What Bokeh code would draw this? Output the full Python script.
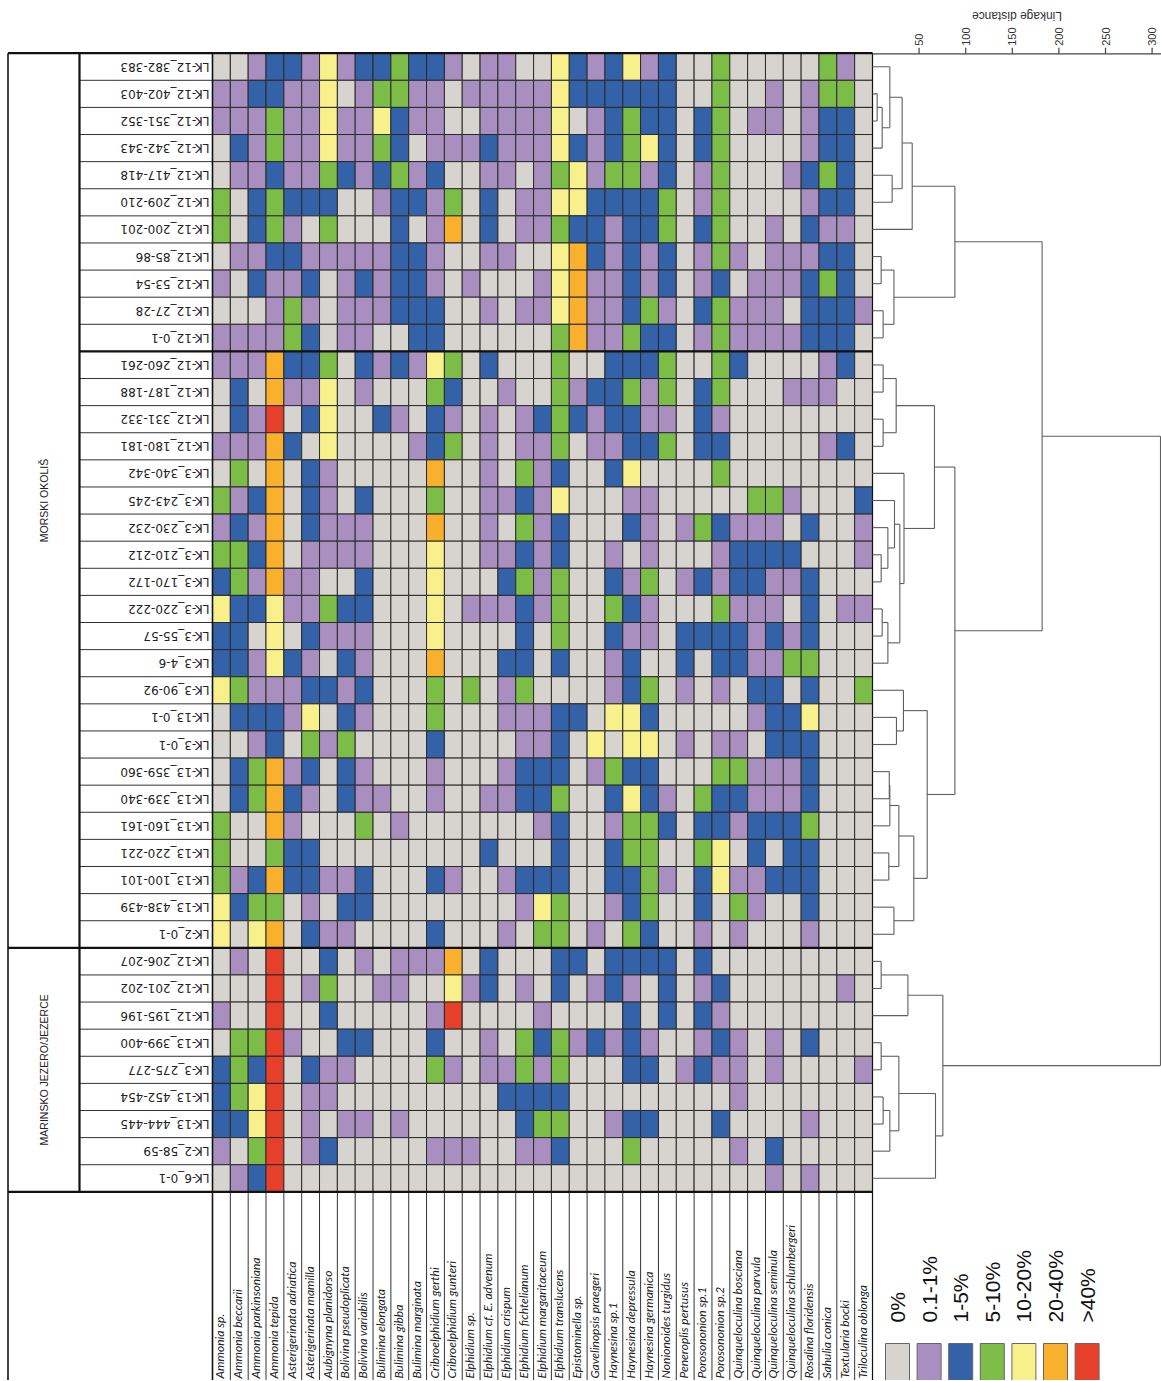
import math
from bokeh.plotting import figure
from bokeh.models import Range1d
from bokeh.embed import file_html
from bokeh.resources import INLINE
from bokeh.core.properties import value

# ---------------- data ----------------
species = ["Ammonia sp.", "Ammonia beccarii", "Ammonia parkinsoniana", "Ammonia tepida",
           "Asterigerinata adriatica", "Asterigerinata mamilla", "Aubignyna planidorso",
           "Bolivina pseudoplicata", "Bolivina variabilis", "Bulimina elongata", "Bulimina gibba",
           "Bulimina marginata", "Cribroelphidium gerthi", "Cribroelphidium gunteri", "Elphidium sp.",
           "Elphidium cf. E. advenum", "Elphidium crispum", "Elphidium fichtelianum",
           "Elphidium margaritaceum", "Elphidium translucens", "Epistominella sp.",
           "Gavelinopsis praegeri", "Haynesina sp.1", "Haynesina depressula", "Haynesina germanica",
           "Nonionoides turgidus", "Peneroplis pertusus", "Porosononion sp.1", "Porosononion sp.2",
           "Quinqueloculina bosciana", "Quinqueloculina parvula", "Quinqueloculina seminula",
           "Quinqueloculina schlumbergeri", "Rosalina floridensis", "Sahulia conica",
           "Textularia bocki", "Triloculina oblonga"]

samples = ["LK-12_382-383", "LK-12_402-403", "LK-12_351-352", "LK-12_342-343", "LK-12_417-418",
           "LK-12_209-210", "LK-12_200-201", "LK-12_85-86", "LK-12_53-54", "LK-12_27-28",
           "LK-12_0-1", "LK-12_260-261", "LK-12_187-188", "LK-12_331-332", "LK-12_180-181",
           "LK-3_340-342", "LK-3_243-245", "LK-3_230-232", "LK-3_210-212", "LK-3_170-172",
           "LK-3_220-222", "LK-3_55-57", "LK-3_4-6", "LK-3_90-92", "LK-13_0-1", "LK-3_0-1",
           "LK-13_359-360", "LK-13_339-340", "LK-13_160-161", "LK-13_220-221", "LK-13_100-101",
           "LK-13_438-439", "LK-2_0-1", "LK-12_206-207", "LK-12_201-202", "LK-12_195-196",
           "LK-13_399-400", "LK-3_275-277", "LK-13_452-454", "LK-13_444-445", "LK-2_58-59",
           "LK-6_0-1"]

groups = ["MORSKI OKOLIŠ", "MARINSKO JEZERO/JEZERCE"]
group_sizes = [33, 9]
subgroup_breaks = [11]

# abundance class per sample (row) and species (column): 0..6
abundance = [
    "0012214122322101100" + "421241200300000310",
    "1122114013311011111" + "422222200300101330",
    "1113114114211001111" + "401232202301101220",
    "0213114113201112111" + "421234202300001220",
    "0112113212312001101" + "341331201300012320",
    "3023222001221302011" + "442222301300001220",
    "3023103000201502011" + "322122302300102110",
    "0112211111221001100" + "452121201310111220",
    "1021120121221010001" + "451121201201112320",
    "0001310111222001011" + "451123102311102221",
    "1111320110022000000" + "351132201311112220",
    "1115223021214302000" + "300222300320000120",
    "0205114010003200100" + "312231302300011100",
    "0216024002102101012" + "321221102100000000",
    "1115204000012301011" + "301122302200000120",
    "0305021000005001031" + "200240000300000000",
    "3125021020003001121" + "400011000003310002",
    "1215021110005001031" + "200021013211102001",
    "3325011110004001121" + "200101000122220001",
    "2315110020004000231" + "300213012122112000",
    "4224113220004011121" + "300321000311102011",
    "2204021110004000020" + "300211022221212000",
    "2214210210005000220" + "200120020221133000",
    "4311122120003030130" + "000123010102202003",
    "0222140210003000111" + "220442000001224000",
    "0012031300002000011" + "204044010110222000",
    "0235120210001000122" + "201322000331112000",
    "0235210211001001122" + "300242103221112000",
    "3005100030100000001" + "200133202212223000",
    "3003220000000002000" + "200233003402022000",
    "3125221120002100122" + "200223102411222000",
    "4233010220000000014" + "300123002031002000",
    "4045021100002000103" + "301032001010001000",
    "0106002010111502000" + "220222202000000000",
    "0006013001100412010" + "201210201200000010",
    "1006002000001600001" + "000020202100000000",
    "0336100220002001032" + "312121001210102000",
    "2326021100003101131" + "300022012110100001",
    "2346011000000000222" + "200000000010000000",
    "2246010110100000023" + "300122000200001000",
    "1036012000001110011" + "200030000010200000",
    "0126000000000000000" + "000000000000101000",
]

class_labels = ["0%", "0.1-1%", "1-5%", "5-10%", "10-20%", "20-40%", ">40%"]
class_colors = ["#d7d3ce", "#a98fc0", "#3462a8", "#7cbd48", "#f7f08b", "#f8b02d", "#e6402a"]

# dendrogram merges (scipy-like: ids >= n_samples refer to earlier merges)
merge_a = [1, 42, 0, 4, 44, 46, 7, 9, 48, 47, 11, 13, 52, 18, 17, 16, 20, 58, 57, 15, 54,
           24, 23, 26, 65, 29, 66, 31, 68, 64, 62, 51, 33, 74, 36, 38, 77, 76, 79, 75, 73]
merge_b = [2, 3, 43, 5, 45, 6, 8, 10, 49, 50, 12, 14, 53, 19, 55, 56, 21, 22, 59, 60, 61,
           25, 63, 27, 28, 30, 67, 32, 69, 70, 71, 72, 34, 35, 37, 39, 40, 78, 41, 80, 81]
merge_h = [5.0, 10.4, 18.6, 21.1, 31.8, 42.6, 9.3, 11.4, 23.0, 88.4, 11.4, 11.4, 25.4, 9.3,
           16.5, 23.6, 10.4, 16.5, 29.3, 33.8, 66.5, 25.7, 33.2, 18.0, 18.6, 17.5, 28.3, 23.0,
           44.3, 58.7, 88.4, 182.0, 9.3, 38.0, 9.3, 11.4, 18.6, 28.3, 67.6, 75.5, 309.0]
dist_ticks = [50, 100, 150, 200, 250, 300]

# ---------------- layout (screen pixels) ----------------
PX_L, PX_R, PX_T, PX_B = 0, 1161, 0, 1380
GRID_L, GRID_R, GRID_T = 212.0, 872.0, 52.7
ROW_H = 27.11
n_rows, n_cols = len(samples), len(species)
COL_W = (GRID_R - GRID_L) / n_cols
GRID_B = GRID_T + n_rows * ROW_H
PX_PER_DIST = 0.932
GROUP_X = 79.0
OUTER_X = 7.5

p = figure(width=PX_R - PX_L, height=PX_B - PX_T, output_backend="svg", toolbar_location=None,
           x_axis_type=None, y_axis_type=None, min_border=0,
           x_range=Range1d(PX_L, PX_R), y_range=Range1d(-PX_B, -PX_T))
p.outline_line_color = None
p.grid.visible = False
p.background_fill_color = "white"
p.extra_x_ranges = {
    "col": Range1d((PX_L - GRID_L) / COL_W, (PX_R - GRID_L) / COL_W),
    "dist": Range1d((PX_L - GRID_R) / PX_PER_DIST, (PX_R - GRID_R) / PX_PER_DIST),
}
p.extra_y_ranges = {"row": Range1d(-(PX_B - GRID_T) / ROW_H, (GRID_T - PX_T) / ROW_H)}

# ---------------- heatmap ----------------
L, R, T, B, C = [], [], [], [], []
for r, row in enumerate(abundance):
    for c, ch in enumerate(row):
        L.append(c); R.append(c + 1); T.append(-r); B.append(-r - 1)
        C.append(class_colors[int(ch)])
p.quad(left=L, right=R, top=T, bottom=B, fill_color=C, line_color="#2a2a2a", line_width=1,
       x_range_name="col", y_range_name="row")

# ---------------- structural lines ----------------
thin = "#333333"
p.segment(x0=[GROUP_X] * (n_rows + 1), x1=[GRID_L] * (n_rows + 1),
          y0=[-(GRID_T + i * ROW_H) for i in range(n_rows + 1)],
          y1=[-(GRID_T + i * ROW_H) for i in range(n_rows + 1)],
          line_color=thin, line_width=1)
p.segment(x0=[GRID_L + i * COL_W for i in range(n_cols + 1)],
          x1=[GRID_L + i * COL_W for i in range(n_cols + 1)],
          y0=[-GRID_B] * (n_cols + 1), y1=[-PX_B] * (n_cols + 1), line_color=thin, line_width=1)

bounds = [0]
for s in group_sizes:
    bounds.append(bounds[-1] + s)
thick_y = [GRID_T + b * ROW_H for b in bounds]
sub_y = [GRID_T + b * ROW_H for b in subgroup_breaks]
p.segment(x0=[OUTER_X] * len(thick_y), x1=[GRID_R] * len(thick_y),
          y0=[-y for y in thick_y], y1=[-y for y in thick_y], line_color="#111111", line_width=2.2)
p.segment(x0=[GROUP_X] * len(sub_y), x1=[GRID_R] * len(sub_y),
          y0=[-y for y in sub_y], y1=[-y for y in sub_y], line_color="#111111", line_width=2.2)
p.segment(x0=[OUTER_X, GROUP_X, GRID_L, GRID_R], x1=[OUTER_X, GROUP_X, GRID_L, GRID_R],
          y0=[-GRID_T] * 4, y1=[-PX_B, -GRID_B, -PX_B, -PX_B],
          line_color="#111111", line_width=[1.6, 2.2, 1.6, 1.2])

# ---------------- labels ----------------
p.text(x=[GRID_L - 3] * n_rows, y=[-(GRID_T + (i + 0.5) * ROW_H) for i in range(n_rows)],
       text=samples, angle=math.pi, text_align="left", text_baseline="middle",
       text_font=value("DejaVu Sans"), text_font_size="12px", text_color="#222222")

gy = [-(GRID_T + (bounds[i] + bounds[i + 1]) / 2 * ROW_H) for i in range(len(groups))]
p.text(x=[(OUTER_X + GROUP_X) / 2] * len(groups), y=gy, text=groups, angle=math.pi / 2,
       text_align="center", text_baseline="middle", text_font=value("Liberation Sans"),
       text_font_size="10.5px", text_color="#222222")

p.text(x=[c + 0.42 for c in range(n_cols)], y=[-(1378 - GRID_T) / ROW_H] * n_cols,
       text=species, angle=math.pi / 2, text_align="left", text_baseline="middle",
       text_font=value("Lato"), text_font_style="italic", text_font_size="12px",
       text_color="#222222", x_range_name="col", y_range_name="row")

# ---------------- dendrogram ----------------
pos = {i: -(i + 0.5) for i in range(n_rows)}
hgt = {i: 0.0 for i in range(n_rows)}
x0, x1, y0, y1 = [], [], [], []
for k, (a, b, h) in enumerate(zip(merge_a, merge_b, merge_h)):
    for ch in (a, b):
        x0.append(hgt[ch]); x1.append(h); y0.append(pos[ch]); y1.append(pos[ch])
    x0.append(h); x1.append(h); y0.append(pos[a]); y1.append(pos[b])
    pos[n_rows + k] = (pos[a] + pos[b]) / 2
    hgt[n_rows + k] = h
p.segment(x0=x0, x1=x1, y0=y0, y1=y1, line_color="#5e5e5e", line_width=1.1,
          x_range_name="dist", y_range_name="row")

# axis (top)
AX_Y = 53.3
dist_end = (PX_R - GRID_R) / PX_PER_DIST
p.segment(x0=[0], x1=[dist_end], y0=[-AX_Y], y1=[-AX_Y], line_color="#444444", line_width=1.2,
          x_range_name="dist")
p.segment(x0=dist_ticks, x1=dist_ticks, y0=[-AX_Y] * len(dist_ticks),
          y1=[-(AX_Y - 6)] * len(dist_ticks), line_color="#444444", line_width=1.2,
          x_range_name="dist")
p.text(x=dist_ticks, y=[-(AX_Y - 8)] * len(dist_ticks), text=[str(t) for t in dist_ticks],
       angle=math.pi / 2, text_align="left", text_baseline="middle",
       text_font=value("Liberation Sans"), text_font_size="11px", text_color="#333333",
       x_range_name="dist")
p.text(x=[(dist_end * 0.5)], y=[-15], text=["Linkage distance"], angle=math.pi,
       text_align="center", text_baseline="middle", text_font=value("Liberation Sans"),
       text_font_size="12px", text_color="#333333", x_range_name="dist")

# ---------------- legend ----------------
LEG_X0, LEG_DX, LEG_W = 897.0, 31.6, 24.0
lx = [LEG_X0 + k * LEG_DX for k in range(len(class_labels))]
p.quad(left=[x - LEG_W / 2 for x in lx], right=[x + LEG_W / 2 for x in lx],
       top=[-1343] * len(lx), bottom=[-1395] * len(lx), fill_color=class_colors,
       line_color="#666666", line_width=1)
p.text(x=lx, y=[-1322] * len(lx), text=class_labels, angle=math.pi / 2, text_align="left",
       text_baseline="middle", text_font=value("Liberation Sans"), text_font_size="21px",
       text_color="#111111")

open("out.html", "w").write(file_html(p, INLINE))
